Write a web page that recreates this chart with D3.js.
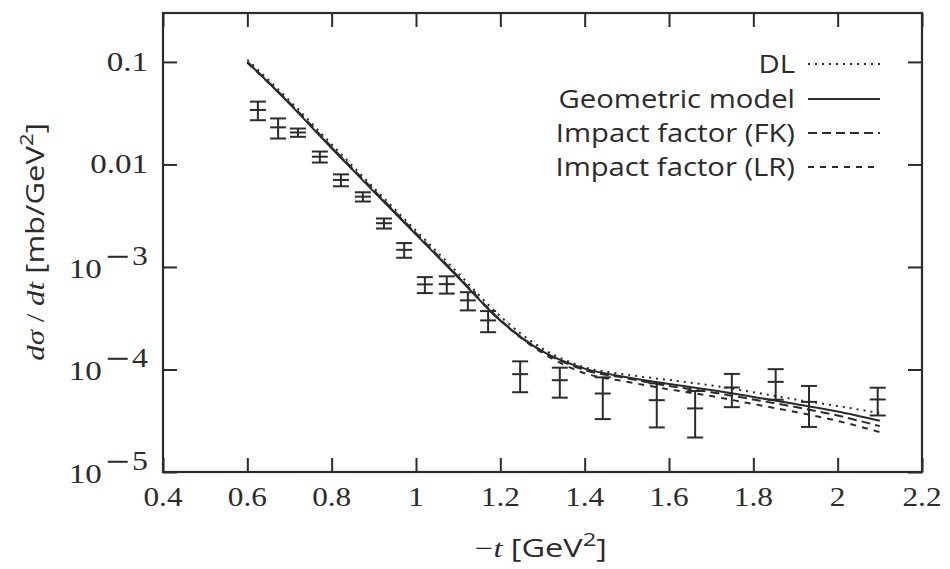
<!DOCTYPE html>
<html>
<head>
<meta charset="utf-8">
<script src="https://cdn.jsdelivr.net/npm/d3@7"></script>
<style>
  html, body { margin: 0; padding: 0; background: #fff; }
  svg { display: block; }
</style>
</head>
<body>
<div id="chart"></div>
<script>
// Measured differential cross section with errors
const tData = [0.625, 0.673, 0.720, 0.772, 0.822, 0.874, 0.924, 0.972, 1.021, 1.073, 1.123,
               1.171, 1.247, 1.341, 1.443, 1.571, 1.662, 1.749, 1.853, 1.932, 2.095];
const sigmaData = [0.034, 0.023, 0.0205, 0.0119, 0.00706, 0.00485, 0.00267, 0.00147, 0.000676, 0.00068, 0.000472,
                   0.000301, 0.000090, 0.0000786, 0.0000583, 0.0000502, 0.0000417, 0.0000667, 0.0000757, 0.0000483, 0.000051];
const errData = [0.007, 0.0051, 0.0019, 0.00146, 0.00094, 0.0005, 0.0003, 0.00024, 0.00012, 0.00013, 0.000095,
                 0.00007, 0.00003, 0.0000255, 0.0000255, 0.000023, 0.00002, 0.0000238, 0.000025, 0.0000208, 0.0000154];

// Model curves sampled in -t
const tCurve = [0.6, 0.7, 0.8, 0.9, 1.0, 1.1, 1.2, 1.3, 1.4, 1.5, 1.6, 1.7, 1.8, 1.9, 2.0, 2.1];
const dlCurve = [0.105, 0.042, 0.0157, 0.0059, 0.00226, 0.00087, 0.00033, 0.000160, 0.000105, 0.000089,
                 0.000079, 0.000070, 0.000060, 0.000051, 0.000044, 0.0000375];
const geometricCurve = [0.100, 0.039, 0.0144, 0.00543, 0.00207, 0.00079, 0.00030, 0.000150, 0.000102, 0.000084,
                        0.000072, 0.000063, 0.000054, 0.000046, 0.000039, 0.0000316];
const fkCurve = [0.100, 0.040, 0.0148, 0.0056, 0.00213, 0.00081, 0.000305, 0.000150, 0.000099, 0.000082,
                 0.000069, 0.000060, 0.000051, 0.000043, 0.0000355, 0.000028];
const lrCurve = [0.098, 0.0395, 0.0146, 0.0055, 0.0021, 0.0008, 0.000300, 0.000145, 0.000092, 0.000076,
                 0.000064, 0.000055, 0.000046, 0.0000385, 0.0000315, 0.0000245];

const seriesNames = ["DL", "Geometric model", "Impact factor (FK)", "Impact factor (LR)"];
const seriesValues = [dlCurve, geometricCurve, fkCurve, lrCurve];
const seriesDash = ["2,5", null, "9,5", "6,6"];

// Axis ticks
const xTicks = [0.4, 0.6, 0.8, 1.0, 1.2, 1.4, 1.6, 1.8, 2.0, 2.2];
const xTickLabels = ["0.4", "0.6", "0.8", "1", "1.2", "1.4", "1.6", "1.8", "2", "2.2"];
const yTicks = [1e-5, 1e-4, 1e-3, 1e-2, 1e-1];
const yTickBase = ["10", "10", "10", "0.01", "0.1"];
const yTickExp = ["5", "4", "3", "", ""];

const W = 950, H = 569;
const plotL = 163, plotR = 922, plotT = 13, plotB = 472;
const ink = "#2b2b2b";
const stretch = 1.18;   // wide text proportions

const svg = d3.select("#chart").append("svg")
  .attr("width", W).attr("height", H);

const x = d3.scaleLinear().domain([0.4, 2.2]).range([plotL, plotR]);
const y = d3.scaleLog().domain([1e-5, 0.3]).range([plotB, plotT]);

svg.append("defs").append("clipPath").attr("id", "plotArea")
  .append("rect").attr("x", plotL).attr("y", plotT)
  .attr("width", plotR - plotL).attr("height", plotB - plotT);

// Inward ticks on all four sides
const tickLen = 14;
const axes = [
  [d3.axisBottom(x).tickValues(xTicks).tickSize(-tickLen), `translate(0,${plotB})`],
  [d3.axisTop(x).tickValues(xTicks).tickSize(-tickLen), `translate(0,${plotT})`],
  [d3.axisLeft(y).tickValues(yTicks).tickSize(-tickLen), `translate(${plotL},0)`],
  [d3.axisRight(y).tickValues(yTicks).tickSize(-tickLen), `translate(${plotR},0)`]
];
axes.forEach(([ax, tr]) => {
  const g = svg.append("g").attr("transform", tr).call(ax.tickFormat(""));
  g.select(".domain").remove();
  g.selectAll("line").attr("stroke", ink).attr("stroke-width", 2);
});

// Frame
svg.append("rect")
  .attr("x", plotL).attr("y", plotT)
  .attr("width", plotR - plotL).attr("height", plotB - plotT)
  .attr("fill", "none").attr("stroke", ink).attr("stroke-width", 2.2);

// Tick labels
const serif = "'Liberation Serif', 'DejaVu Serif', serif";
const sans = "'Open Sans', 'DejaVu Sans', sans-serif";

svg.append("g").selectAll("text").data(xTicks).join("text")
  .attr("transform", d => `translate(${x(d)},506) scale(${stretch},1)`)
  .attr("text-anchor", "middle")
  .attr("font-family", serif).attr("font-size", 26.5).attr("fill", ink)
  .text((d, i) => xTickLabels[i]);

const yLab = svg.append("g").selectAll("text").data(yTicks).join("text")
  .attr("transform", (d, i) => `translate(148,${y(d) + (yTickExp[i] ? 11 : 9)}) scale(${stretch},1)`)
  .attr("text-anchor", "end")
  .attr("font-family", serif).attr("font-size", 28).attr("fill", ink);
yLab.append("tspan").text((d, i) => yTickBase[i]);
// exponent: wide minus sign followed by the power
yLab.filter((d, i) => yTickExp[i]).append("tspan")
  .attr("dy", -13).attr("dx", 2).attr("font-size", 27)
  .attr("font-family", "'DejaVu Serif', serif").text("\u2212");
yLab.filter((d, i) => yTickExp[i]).append("tspan")
  .attr("font-size", 27).attr("dx", 1)
  .text((d, i) => yTickExp[yTicks.indexOf(d)]);

// Axis titles
const xTitle = svg.append("text")
  .attr("transform", `translate(541,557) scale(1.25,1)`)
  .attr("text-anchor", "middle")
  .attr("fill", ink).attr("font-size", 26);
xTitle.append("tspan").attr("font-family", serif).text("\u2212");
xTitle.append("tspan").attr("font-family", serif).attr("font-style", "italic").text("t");
xTitle.append("tspan").attr("font-family", sans).text(" [GeV");
xTitle.append("tspan").attr("font-family", sans).attr("font-size", 19).attr("dy", -11).text("2");
xTitle.append("tspan").attr("font-family", sans).attr("dy", 11).text("]");

const yTitle = svg.append("text")
  .attr("transform", "translate(44,242) rotate(-90) scale(1.24,1)")
  .attr("text-anchor", "middle").attr("fill", ink).attr("font-size", 25);
yTitle.append("tspan").attr("font-family", serif).attr("font-style", "italic").text("d\u03c3");
yTitle.append("tspan").attr("font-family", serif).text(" / ");
yTitle.append("tspan").attr("font-family", serif).attr("font-style", "italic").text("dt");
yTitle.append("tspan").attr("font-family", sans).text(" [mb/GeV");
yTitle.append("tspan").attr("font-family", sans).attr("font-size", 18).attr("dy", -11).text("2");
yTitle.append("tspan").attr("font-family", sans).attr("dy", 11).text("]");

// Model curves
const line = d3.line()
  .x(d => x(d[0])).y(d => y(d[1]))
  .curve(d3.curveMonotoneX);

const curves = svg.append("g").attr("clip-path", "url(#plotArea)");
seriesValues.forEach((vals, i) => {
  curves.append("path")
    .datum(tCurve.map((t, k) => [t, vals[k]]))
    .attr("d", line)
    .attr("fill", "none").attr("stroke", ink).attr("stroke-width", 2)
    .attr("stroke-dasharray", seriesDash[i]);
});

// Data points with error bars
const cap = 8;
const pts = svg.append("g").attr("stroke", ink).attr("stroke-width", 2);
tData.forEach((t, i) => {
  const cx = x(t);
  const yc = y(sigmaData[i]);
  const yHi = y(sigmaData[i] + errData[i]);
  const yLo = y(sigmaData[i] - errData[i]);
  pts.append("line").attr("x1", cx).attr("x2", cx).attr("y1", yHi).attr("y2", yLo);
  [yHi, yc, yLo].forEach(yy => {
    pts.append("line").attr("x1", cx - cap).attr("x2", cx + cap).attr("y1", yy).attr("y2", yy);
  });
});

// Legend
const legendRows = [64, 99, 133, 167];
const legend = svg.append("g");
seriesNames.forEach((name, i) => {
  legend.append("text")
    .attr("transform", `translate(795,${legendRows[i] + 9}) scale(1.17,1)`)
    .attr("text-anchor", "end")
    .attr("font-family", sans).attr("font-size", 25).attr("fill", ink)
    .text(name);
  legend.append("line")
    .attr("x1", 808).attr("x2", 880)
    .attr("y1", legendRows[i]).attr("y2", legendRows[i])
    .attr("stroke", ink).attr("stroke-width", 2)
    .attr("stroke-dasharray", seriesDash[i]);
});
</script>
</body>
</html>
